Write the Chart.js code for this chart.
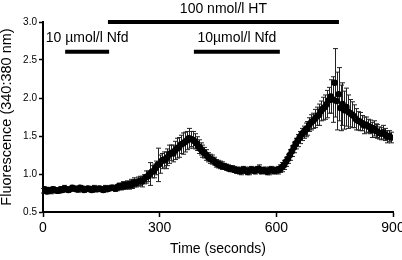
<!DOCTYPE html>
<html>
<head>
<meta charset="utf-8">
<script src="https://cdn.jsdelivr.net/npm/chart.js@4"></script>
<style>
  body { margin: 0; background: #fff; }
  canvas { display: block; }
</style>
</head>
<body>
<canvas id="fluoChart" width="402" height="260"></canvas>
<script>
// time (s), mean ratio and error
const times = [
    0, 5, 10, 15, 20, 25, 30, 35, 40, 45, 50, 55, 60, 65, 70, 75, 80, 85, 90, 95,
    100, 105, 110, 115, 120, 125, 130, 135, 140, 145, 150, 155, 160, 165, 170, 175, 180, 185, 190, 195,
    200, 205, 210, 215, 220, 225, 230, 235, 240, 245, 250, 255, 260, 265, 270, 275, 280, 285, 290, 295,
    300, 305, 310, 315, 320, 325, 330, 335, 340, 345, 350, 355, 360, 365, 370, 375, 380, 385, 390, 395,
    400, 405, 410, 415, 420, 425, 430, 435, 440, 445, 450, 455, 460, 465, 470, 475, 480, 485, 490, 495,
    500, 505, 510, 515, 520, 525, 530, 535, 540, 545, 550, 555, 560, 565, 570, 575, 580, 585, 590, 595,
    600, 605, 610, 615, 620, 625, 630, 635, 640, 645, 650, 655, 660, 665, 670, 675, 680, 685, 690, 695,
    700, 705, 710, 715, 720, 725, 730, 735, 740, 745, 750, 755, 760, 765, 770, 775, 780, 785, 790, 795,
    800, 805, 810, 815, 820, 825, 830, 835, 840, 845, 850, 855, 860, 865, 870, 875, 880, 885, 890, 895
];
const means = [
    0.78, 0.80, 0.77, 0.79, 0.78, 0.80, 0.79, 0.78, 0.78, 0.80, 0.79, 0.81, 0.80, 0.79, 0.80, 0.82, 0.81, 0.80, 0.80, 0.82,
    0.81, 0.79, 0.80, 0.81, 0.80, 0.79, 0.81, 0.80, 0.80, 0.81, 0.80, 0.79, 0.81, 0.80, 0.81, 0.82, 0.82, 0.81, 0.82, 0.84,
    0.83, 0.85, 0.84, 0.86, 0.85, 0.87, 0.86, 0.89, 0.88, 0.90, 0.91, 0.90, 0.93, 0.96, 0.97, 1.00, 1.03, 1.04, 1.08, 1.12,
    1.13, 1.17, 1.19, 1.18, 1.22, 1.26, 1.28, 1.27, 1.31, 1.34, 1.35, 1.39, 1.40, 1.42, 1.44, 1.47, 1.46, 1.45, 1.43, 1.40,
    1.36, 1.33, 1.30, 1.28, 1.25, 1.22, 1.20, 1.19, 1.17, 1.14, 1.13, 1.12, 1.11, 1.10, 1.09, 1.08, 1.07, 1.07, 1.06, 1.05,
    1.05, 1.04, 1.04, 1.06, 1.05, 1.03, 1.04, 1.06, 1.05, 1.04, 1.06, 1.07, 1.04, 1.05, 1.05, 1.03, 1.04, 1.06, 1.05, 1.04,
    1.05, 1.05, 1.07, 1.09, 1.12, 1.16, 1.20, 1.25, 1.30, 1.35, 1.40, 1.44, 1.48, 1.52, 1.55, 1.58, 1.60, 1.65, 1.68, 1.70,
    1.73, 1.76, 1.78, 1.83, 1.86, 1.88, 1.92, 1.97, 2.02, 1.98, 2.20, 1.96, 2.05, 1.87, 1.92, 1.84, 1.88, 1.82, 1.80, 1.78,
    1.76, 1.72, 1.70, 1.69, 1.67, 1.64, 1.65, 1.63, 1.62, 1.58, 1.60, 1.57, 1.56, 1.54, 1.53, 1.55, 1.52, 1.49, 1.50, 1.48
];
const errors = [
    0.03, 0.02, 0.03, 0.03, 0.04, 0.03, 0.03, 0.02, 0.03, 0.03, 0.03, 0.04, 0.03, 0.03, 0.02, 0.03, 0.03, 0.03, 0.04, 0.03,
    0.03, 0.03, 0.02, 0.03, 0.03, 0.03, 0.04, 0.03, 0.03, 0.03, 0.03, 0.03, 0.04, 0.03, 0.03, 0.03, 0.03, 0.04, 0.04, 0.04,
    0.04, 0.05, 0.04, 0.05, 0.05, 0.06, 0.05, 0.06, 0.05, 0.06, 0.06, 0.07, 0.06, 0.08, 0.07, 0.15, 0.08, 0.09, 0.09, 0.22,
    0.12, 0.10, 0.10, 0.11, 0.11, 0.12, 0.10, 0.11, 0.12, 0.13, 0.13, 0.12, 0.14, 0.13, 0.12, 0.13, 0.10, 0.11, 0.10, 0.09,
    0.09, 0.08, 0.08, 0.07, 0.07, 0.06, 0.06, 0.06, 0.05, 0.05, 0.05, 0.05, 0.05, 0.04, 0.04, 0.04, 0.04, 0.04, 0.04, 0.04,
    0.04, 0.04, 0.05, 0.04, 0.04, 0.04, 0.05, 0.04, 0.04, 0.04, 0.04, 0.05, 0.04, 0.04, 0.04, 0.04, 0.05, 0.04, 0.04, 0.04,
    0.04, 0.05, 0.05, 0.06, 0.06, 0.06, 0.06, 0.07, 0.07, 0.07, 0.07, 0.08, 0.08, 0.08, 0.08, 0.09, 0.09, 0.09, 0.10, 0.10,
    0.12, 0.12, 0.14, 0.13, 0.15, 0.16, 0.18, 0.17, 0.22, 0.30, 0.45, 0.38, 0.35, 0.30, 0.28, 0.25, 0.25, 0.22, 0.18, 0.17,
    0.15, 0.14, 0.12, 0.12, 0.10, 0.11, 0.10, 0.09, 0.09, 0.10, 0.10, 0.09, 0.09, 0.08, 0.08, 0.09, 0.08, 0.08, 0.07, 0.07
];

// treatment bars: start, end (s), level on the y scale, label
const barLabels = ['100 nmol/l HT', '10 \u00b5mol/l Nfd', '10\u00b5mol/l Nfd'];
const barStarts = [167, 57, 388];
const barEnds = [761, 170, 609];
const barLevels = [3.0, 2.61, 2.61];

const xTicks = [0, 300, 600, 900];

const FONT = "'Liberation Sans', Arial, Helvetica, sans-serif";

const points = times.map((t, i) => ({ x: t, y: means[i] }));

const barSets = barLabels.map((lab, i) => ({
    type: 'line',
    label: lab,
    data: [{ x: barStarts[i], y: barLevels[i] }, { x: barEnds[i], y: barLevels[i] }],
    borderColor: '#000',
    borderWidth: 4,
    borderCapStyle: 'butt',
    pointRadius: 0,
    showLine: true,
    clip: false
}));

// draws the error bars and the treatment labels
const extras = {
    id: 'extras',
    beforeDatasetsDraw(chart) {
        const { ctx, scales: { x, y } } = chart;
        ctx.save();
        ctx.strokeStyle = '#222';
        ctx.lineWidth = 1;
        times.forEach((t, i) => {
            const px = Math.round(x.getPixelForValue(t)) + 0.5;
            const top = y.getPixelForValue(means[i] + errors[i]);
            const bot = y.getPixelForValue(means[i] - errors[i]);
            ctx.beginPath();
            ctx.moveTo(px, top);
            ctx.lineTo(px, bot);
            ctx.moveTo(px - 2.5, top);
            ctx.lineTo(px + 2.5, top);
            ctx.moveTo(px - 2.5, bot);
            ctx.lineTo(px + 2.5, bot);
            ctx.stroke();
        });
        ctx.restore();
    },
    afterDatasetsDraw(chart) {
        const { ctx, scales: { x, y } } = chart;
        ctx.save();
        ctx.fillStyle = '#000';
        ctx.font = '14px ' + FONT;
        ctx.textAlign = 'center';
        ctx.textBaseline = 'middle';
        barLabels.forEach((lab, i) => {
            const cx = x.getPixelForValue((barStarts[i] + barEnds[i]) / 2);
            const cy = y.getPixelForValue(barLevels[i]);
            ctx.fillText(lab, cx, cy - 13);
        });
        ctx.restore();
    }
};

const ctx = document.getElementById('fluoChart').getContext('2d');
new Chart(ctx, {
    type: 'scatter',
    data: {
        datasets: [{
            label: 'Fluorescence',
            data: points,
            pointRadius: 3.3,
            pointBackgroundColor: '#000',
            pointBorderColor: '#000',
            pointBorderWidth: 0,
            showLine: false
        }].concat(barSets)
    },
    options: {
        responsive: false,
        animation: false,
        events: [],
        layout: { padding: { top: 22, right: 9, left: 0, bottom: 0 } },
        plugins: {
            legend: { display: false },
            tooltip: { enabled: false }
        },
        scales: {
            x: {
                type: 'linear',
                min: 0,
                max: 900,
                afterBuildTicks: (scale) => {
                    scale.ticks = xTicks.map(v => ({ value: v }));
                },
                afterFit: (scale) => {
                    scale.height = 48;
                    scale.paddingLeft = 0;
                    scale.paddingRight = 0;
                },
                grid: {
                    drawOnChartArea: false,
                    drawTicks: true,
                    tickLength: 5,
                    tickWidth: 1.5,
                    tickColor: '#000'
                },
                border: { display: true, color: '#000', width: 2 },
                ticks: {
                    color: '#000',
                    padding: 3,
                    maxRotation: 0,
                    font: { family: FONT, size: 14 }
                },
                title: {
                    display: true,
                    text: 'Time (seconds)',
                    color: '#000',
                    padding: { top: 0, bottom: 2 },
                    font: { family: FONT, size: 14 }
                }
            },
            y: {
                min: 0.5,
                max: 3.0,
                afterFit: (scale) => {
                    scale.width = 43;
                },
                grid: {
                    drawOnChartArea: false,
                    drawTicks: true,
                    tickLength: 4,
                    tickWidth: 1.5,
                    tickColor: '#000'
                },
                border: { display: true, color: '#000', width: 2 },
                ticks: {
                    stepSize: 0.5,
                    color: '#000',
                    padding: 2,
                    font: { family: FONT, size: 10 },
                    callback: (v) => v.toFixed(1)
                },
                title: {
                    display: true,
                    text: 'Fluorescence (340:380 nm)',
                    color: '#000',
                    padding: { top: 0, bottom: 0 },
                    font: { family: FONT, size: 14.5, lineHeight: 1 }
                }
            }
        }
    },
    plugins: [extras]
});
</script>
</body>
</html>
